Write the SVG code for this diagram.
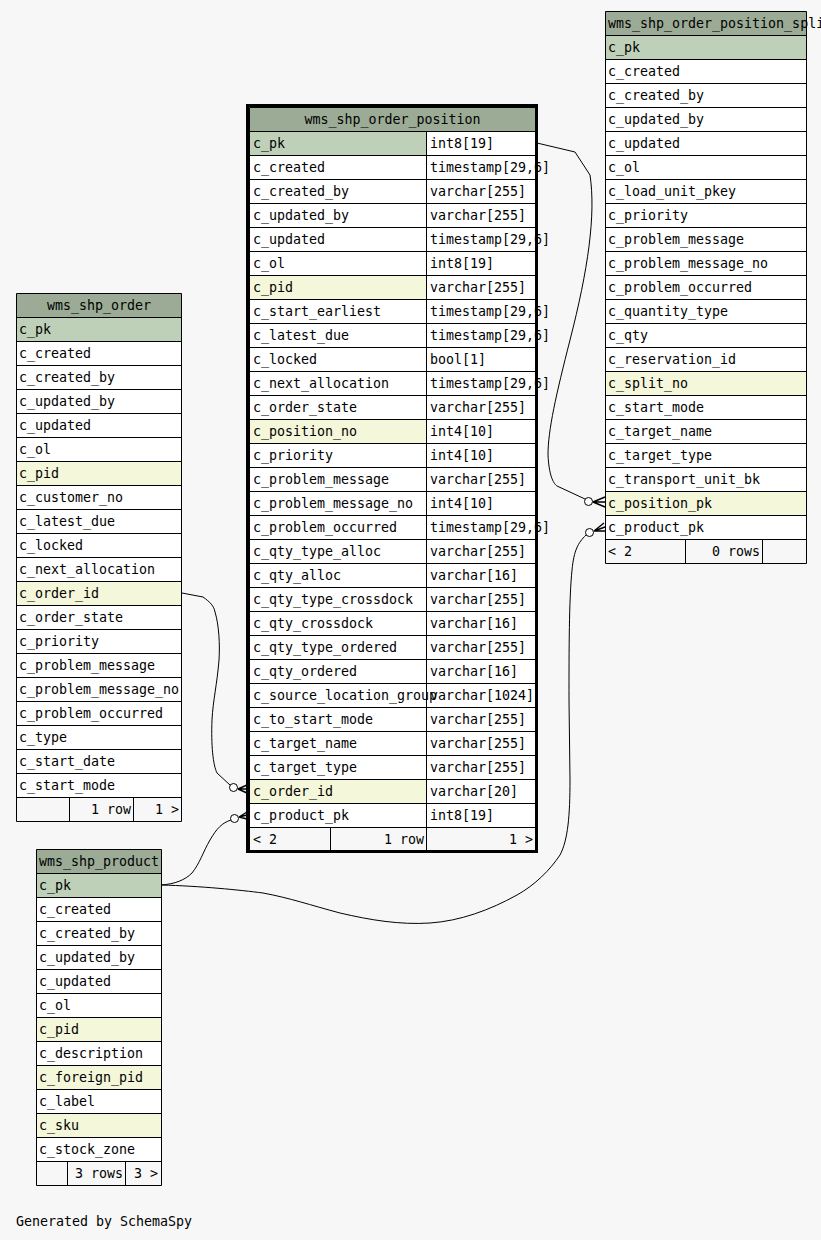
<svg xmlns="http://www.w3.org/2000/svg" width="821" height="1240" viewBox="0 0 821 1240">
<style>
.t{font-family:"DejaVu Sans Mono","Liberation Mono",monospace;font-size:13.3px;fill:#000}
.e{text-anchor:end}
.m{text-anchor:middle}
.g{fill:none;stroke:#000;stroke-width:1}
.w{fill:#fff}
.hd{fill:#9bab96}
.pk{fill:#bed1b8}
.ix{fill:#f4f7da}
.ft{fill:#f7f7f7}
.ln{fill:none;stroke:#000;stroke-width:1}
.od{fill:#fff;stroke:#000;stroke-width:1}
.cr{fill:none;stroke:#000;stroke-width:1.4}
</style>
<rect x="0" y="0" width="821" height="1240" fill="#f7f7f7"/>

<g id="edges">
<path class="ln" d="M537,143 L575,152 L590,175 C596,215 588,270 570,340 C556,395 548,430 548,455 C549,475 553,483 557,486 L585,499"/>
<circle class="od" cx="588.5" cy="501.5" r="4"/>
<path class="cr" d="M593,502 L605,497 M593,502 L605,502 M593,502 L605,507"/>
<path class="ln" d="M182,593 L203,597 C210,602 214,606 215,612 C219,625 220,645 219,660 C217,685 213,700 212,720 C211,745 213,765 217,773 L230,785"/>
<circle class="od" cx="233.5" cy="787.5" r="4"/>
<path class="cr" d="M238,789 L247,785 M238,789 L247,789 M238,789 L247,793"/>
<path class="ln" d="M161,885 C175,884 185,880 192,873 C200,863 203,852 210,840 C217,828 222,823 231,820"/>
<circle class="od" cx="234.5" cy="818.5" r="4"/>
<path class="cr" d="M239,817 L247,812 M239,817 L247,815 M239,817 L247,819"/>
<path class="ln" d="M161,885 C200,886 240,890 263,893 C290,898 310,905 340,913 C370,920 400,925 430,923 C460,921 490,910 517,895 C535,885 550,870 560,855 C568,840 570,815 570,780 L569,700 C569,650 569,600 572,570 C574,550 578,543 586,535"/>
<circle class="od" cx="589.5" cy="532.5" r="4"/>
<path class="cr" d="M594,531 L604,523 M594,531 L605,527 M594,531 L605,531"/>
</g>

<g id="wms_shp_order">
<rect class="hd" x="16.5" y="293.5" width="165" height="24"/>
<rect class="w" x="16.5" y="317.5" width="165" height="480"/>
<rect class="ft" x="16.5" y="797.5" width="165" height="24"/>
<rect class="pk" x="16.5" y="317.5" width="165" height="24"/>
<rect class="ix" x="16.5" y="461.5" width="165" height="24"/>
<rect class="ix" x="16.5" y="581.5" width="165" height="24"/>
<path class="g" d="M16.5,293.5H181.5M16.5,317.5H181.5M16.5,341.5H181.5M16.5,365.5H181.5M16.5,389.5H181.5M16.5,413.5H181.5M16.5,437.5H181.5M16.5,461.5H181.5M16.5,485.5H181.5M16.5,509.5H181.5M16.5,533.5H181.5M16.5,557.5H181.5M16.5,581.5H181.5M16.5,605.5H181.5M16.5,629.5H181.5M16.5,653.5H181.5M16.5,677.5H181.5M16.5,701.5H181.5M16.5,725.5H181.5M16.5,749.5H181.5M16.5,773.5H181.5M16.5,797.5H181.5M16.5,821.5H181.5M16.5,293.5V821.5M181.5,293.5V821.5M69.5,797.5V821.5M133.5,797.5V821.5"/>
<text class="t m" x="99" y="310">wms_shp_order</text>
<text class="t" x="19" y="334">c_pk</text>
<text class="t" x="19" y="358">c_created</text>
<text class="t" x="19" y="382">c_created_by</text>
<text class="t" x="19" y="406">c_updated_by</text>
<text class="t" x="19" y="430">c_updated</text>
<text class="t" x="19" y="454">c_ol</text>
<text class="t" x="19" y="478">c_pid</text>
<text class="t" x="19" y="502">c_customer_no</text>
<text class="t" x="19" y="526">c_latest_due</text>
<text class="t" x="19" y="550">c_locked</text>
<text class="t" x="19" y="574">c_next_allocation</text>
<text class="t" x="19" y="598">c_order_id</text>
<text class="t" x="19" y="622">c_order_state</text>
<text class="t" x="19" y="646">c_priority</text>
<text class="t" x="19" y="670">c_problem_message</text>
<text class="t" x="19" y="694">c_problem_message_no</text>
<text class="t" x="19" y="718">c_problem_occurred</text>
<text class="t" x="19" y="742">c_type</text>
<text class="t" x="19" y="766">c_start_date</text>
<text class="t" x="19" y="790">c_start_mode</text>
<text class="t e" x="131" y="814">1 row</text>
<text class="t e" x="179" y="814">1 &gt;</text>
</g>

<g id="wms_shp_product">
<rect class="hd" x="36.5" y="849.5" width="125" height="24"/>
<rect class="w" x="36.5" y="873.5" width="125" height="288"/>
<rect class="ft" x="36.5" y="1161.5" width="125" height="24"/>
<rect class="pk" x="36.5" y="873.5" width="125" height="24"/>
<rect class="ix" x="36.5" y="1017.5" width="125" height="24"/>
<rect class="ix" x="36.5" y="1065.5" width="125" height="24"/>
<rect class="ix" x="36.5" y="1113.5" width="125" height="24"/>
<path class="g" d="M36.5,849.5H161.5M36.5,873.5H161.5M36.5,897.5H161.5M36.5,921.5H161.5M36.5,945.5H161.5M36.5,969.5H161.5M36.5,993.5H161.5M36.5,1017.5H161.5M36.5,1041.5H161.5M36.5,1065.5H161.5M36.5,1089.5H161.5M36.5,1113.5H161.5M36.5,1137.5H161.5M36.5,1161.5H161.5M36.5,1185.5H161.5M36.5,849.5V1185.5M161.5,849.5V1185.5M67.5,1161.5V1185.5M125.5,1161.5V1185.5"/>
<text class="t" x="39" y="866">wms_shp_product</text>
<text class="t" x="39" y="890">c_pk</text>
<text class="t" x="39" y="914">c_created</text>
<text class="t" x="39" y="938">c_created_by</text>
<text class="t" x="39" y="962">c_updated_by</text>
<text class="t" x="39" y="986">c_updated</text>
<text class="t" x="39" y="1010">c_ol</text>
<text class="t" x="39" y="1034">c_pid</text>
<text class="t" x="39" y="1058">c_description</text>
<text class="t" x="39" y="1082">c_foreign_pid</text>
<text class="t" x="39" y="1106">c_label</text>
<text class="t" x="39" y="1130">c_sku</text>
<text class="t" x="39" y="1154">c_stock_zone</text>
<text class="t e" x="123" y="1178">3 rows</text>
<text class="t e" x="158" y="1178">3 &gt;</text>
</g>

<g id="wms_shp_order_position_split">
<rect class="hd" x="605.5" y="11.5" width="201" height="24"/>
<rect class="w" x="605.5" y="35.5" width="201" height="504"/>
<rect class="ft" x="605.5" y="539.5" width="201" height="24"/>
<rect class="pk" x="605.5" y="35.5" width="201" height="24"/>
<rect class="ix" x="605.5" y="371.5" width="201" height="24"/>
<rect class="ix" x="605.5" y="491.5" width="201" height="24"/>
<path class="g" d="M605.5,11.5H806.5M605.5,35.5H806.5M605.5,59.5H806.5M605.5,83.5H806.5M605.5,107.5H806.5M605.5,131.5H806.5M605.5,155.5H806.5M605.5,179.5H806.5M605.5,203.5H806.5M605.5,227.5H806.5M605.5,251.5H806.5M605.5,275.5H806.5M605.5,299.5H806.5M605.5,323.5H806.5M605.5,347.5H806.5M605.5,371.5H806.5M605.5,395.5H806.5M605.5,419.5H806.5M605.5,443.5H806.5M605.5,467.5H806.5M605.5,491.5H806.5M605.5,515.5H806.5M605.5,539.5H806.5M605.5,563.5H806.5M605.5,11.5V563.5M806.5,11.5V563.5M685.5,539.5V563.5M762.5,539.5V563.5"/>
<text class="t" x="608" y="28">wms_shp_order_position_split</text>
<text class="t" x="608" y="52">c_pk</text>
<text class="t" x="608" y="76">c_created</text>
<text class="t" x="608" y="100">c_created_by</text>
<text class="t" x="608" y="124">c_updated_by</text>
<text class="t" x="608" y="148">c_updated</text>
<text class="t" x="608" y="172">c_ol</text>
<text class="t" x="608" y="196">c_load_unit_pkey</text>
<text class="t" x="608" y="220">c_priority</text>
<text class="t" x="608" y="244">c_problem_message</text>
<text class="t" x="608" y="268">c_problem_message_no</text>
<text class="t" x="608" y="292">c_problem_occurred</text>
<text class="t" x="608" y="316">c_quantity_type</text>
<text class="t" x="608" y="340">c_qty</text>
<text class="t" x="608" y="364">c_reservation_id</text>
<text class="t" x="608" y="388">c_split_no</text>
<text class="t" x="608" y="412">c_start_mode</text>
<text class="t" x="608" y="436">c_target_name</text>
<text class="t" x="608" y="460">c_target_type</text>
<text class="t" x="608" y="484">c_transport_unit_bk</text>
<text class="t" x="608" y="508">c_position_pk</text>
<text class="t" x="608" y="532">c_product_pk</text>
<text class="t" x="608" y="556">&lt; 2</text>
<text class="t e" x="760" y="556">0 rows</text>
</g>

<g id="wms_shp_order_position">
<rect class="hd" x="249.5" y="107.5" width="286" height="24"/>
<rect class="w" x="249.5" y="131.5" width="286" height="696"/>
<rect class="ft" x="249.5" y="827.5" width="286" height="24"/>
<rect class="pk" x="249.5" y="131.5" width="177" height="24"/>
<rect class="ix" x="249.5" y="275.5" width="177" height="24"/>
<rect class="ix" x="249.5" y="419.5" width="177" height="24"/>
<rect class="ix" x="249.5" y="779.5" width="177" height="24"/>
<path class="g" d="M249.5,107.5H535.5M249.5,131.5H535.5M249.5,155.5H535.5M249.5,179.5H535.5M249.5,203.5H535.5M249.5,227.5H535.5M249.5,251.5H535.5M249.5,275.5H535.5M249.5,299.5H535.5M249.5,323.5H535.5M249.5,347.5H535.5M249.5,371.5H535.5M249.5,395.5H535.5M249.5,419.5H535.5M249.5,443.5H535.5M249.5,467.5H535.5M249.5,491.5H535.5M249.5,515.5H535.5M249.5,539.5H535.5M249.5,563.5H535.5M249.5,587.5H535.5M249.5,611.5H535.5M249.5,635.5H535.5M249.5,659.5H535.5M249.5,683.5H535.5M249.5,707.5H535.5M249.5,731.5H535.5M249.5,755.5H535.5M249.5,779.5H535.5M249.5,803.5H535.5M249.5,827.5H535.5M249.5,851.5H535.5M249.5,107.5V851.5M535.5,107.5V851.5M426.5,131.5V851.5M330.5,827.5V851.5"/>
<text class="t m" x="392.5" y="124">wms_shp_order_position</text>
<text class="t" x="253" y="148">c_pk</text><text class="t" x="430" y="148">int8[19]</text>
<text class="t" x="253" y="172">c_created</text><text class="t" x="430" y="172">timestamp[29,6]</text>
<text class="t" x="253" y="196">c_created_by</text><text class="t" x="430" y="196">varchar[255]</text>
<text class="t" x="253" y="220">c_updated_by</text><text class="t" x="430" y="220">varchar[255]</text>
<text class="t" x="253" y="244">c_updated</text><text class="t" x="430" y="244">timestamp[29,6]</text>
<text class="t" x="253" y="268">c_ol</text><text class="t" x="430" y="268">int8[19]</text>
<text class="t" x="253" y="292">c_pid</text><text class="t" x="430" y="292">varchar[255]</text>
<text class="t" x="253" y="316">c_start_earliest</text><text class="t" x="430" y="316">timestamp[29,6]</text>
<text class="t" x="253" y="340">c_latest_due</text><text class="t" x="430" y="340">timestamp[29,6]</text>
<text class="t" x="253" y="364">c_locked</text><text class="t" x="430" y="364">bool[1]</text>
<text class="t" x="253" y="388">c_next_allocation</text><text class="t" x="430" y="388">timestamp[29,6]</text>
<text class="t" x="253" y="412">c_order_state</text><text class="t" x="430" y="412">varchar[255]</text>
<text class="t" x="253" y="436">c_position_no</text><text class="t" x="430" y="436">int4[10]</text>
<text class="t" x="253" y="460">c_priority</text><text class="t" x="430" y="460">int4[10]</text>
<text class="t" x="253" y="484">c_problem_message</text><text class="t" x="430" y="484">varchar[255]</text>
<text class="t" x="253" y="508">c_problem_message_no</text><text class="t" x="430" y="508">int4[10]</text>
<text class="t" x="253" y="532">c_problem_occurred</text><text class="t" x="430" y="532">timestamp[29,6]</text>
<text class="t" x="253" y="556">c_qty_type_alloc</text><text class="t" x="430" y="556">varchar[255]</text>
<text class="t" x="253" y="580">c_qty_alloc</text><text class="t" x="430" y="580">varchar[16]</text>
<text class="t" x="253" y="604">c_qty_type_crossdock</text><text class="t" x="430" y="604">varchar[255]</text>
<text class="t" x="253" y="628">c_qty_crossdock</text><text class="t" x="430" y="628">varchar[16]</text>
<text class="t" x="253" y="652">c_qty_type_ordered</text><text class="t" x="430" y="652">varchar[255]</text>
<text class="t" x="253" y="676">c_qty_ordered</text><text class="t" x="430" y="676">varchar[16]</text>
<text class="t" x="253" y="700">c_source_location_group</text><text class="t" x="430" y="700">varchar[1024]</text>
<text class="t" x="253" y="724">c_to_start_mode</text><text class="t" x="430" y="724">varchar[255]</text>
<text class="t" x="253" y="748">c_target_name</text><text class="t" x="430" y="748">varchar[255]</text>
<text class="t" x="253" y="772">c_target_type</text><text class="t" x="430" y="772">varchar[255]</text>
<text class="t" x="253" y="796">c_order_id</text><text class="t" x="430" y="796">varchar[20]</text>
<text class="t" x="253" y="820">c_product_pk</text><text class="t" x="430" y="820">int8[19]</text>
<text class="t" x="253" y="844">&lt; 2</text>
<text class="t e" x="424" y="844">1 row</text>
<text class="t e" x="533" y="844">1 &gt;</text>
<rect x="247.5" y="105.5" width="289" height="746" fill="none" stroke="#000" stroke-width="3"/>
</g>

<text class="t" x="16" y="1226">Generated by SchemaSpy</text>
</svg>
